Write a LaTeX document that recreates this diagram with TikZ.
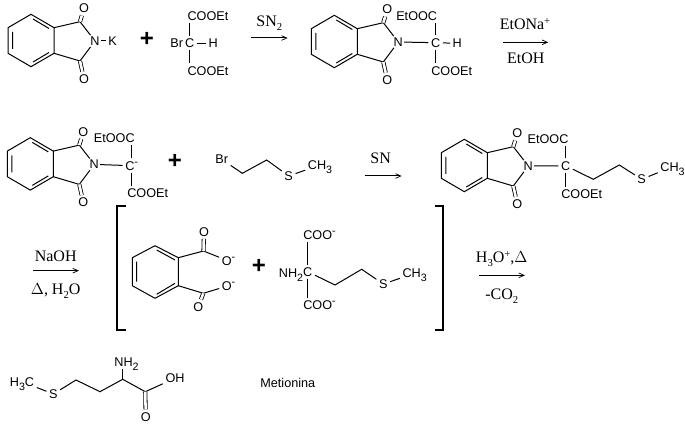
\documentclass[tikz,border=0pt]{standalone}
\usepackage{fontspec}
\setmainfont{Liberation Sans}
\newfontfamily\serifnum{Liberation Serif}
\usetikzlibrary{arrows.meta}
\newcommand\lowidx[1]{\raisebox{-3pt}{\fontsize{8}{8}\selectfont #1}}
\newcommand\highidx[1]{\raisebox{3.5pt}{\fontsize{8}{8}\selectfont #1}}
\tikzset{
  atom/.style={font=\fontsize{9.5}{10}\selectfont,inner sep=0pt,outer sep=2pt,text height=6.8pt,text depth=0pt},
  cond/.style={font=\serifnum\fontsize{12}{13}\selectfont,inner sep=0pt,outer sep=0pt,text height=8pt,text depth=0pt},
  plussign/.style={font=\bfseries\fontsize{18}{18}\selectfont,inner sep=0pt,text height=9pt,text depth=0pt},
  bond/.style={line width=0.75pt,line cap=butt},
  dbl/.style={line width=0.6pt,double,double distance=1.9pt},
  rxn/.style={line width=0.75pt,-{Straight Barb[length=4pt,width=3.5pt,line width=0.55pt]}},
  brk/.style={line width=1.5pt,line cap=butt}
}
\newcommand\phth[3]{%
\begin{scope}[shift={(#2,#3)},name prefix=#1-]
  \coordinate (r1) at (31,14.3);
  \coordinate (r2) at (54,27.7);
  \coordinate (r3) at (54,53.3);
  \coordinate (r4) at (31,66.7);
  \coordinate (r5) at (8,53.3);
  \coordinate (r6) at (8,27.7);
  \coordinate (i1) at (33,19);
  \coordinate (i2) at (49,28.5);
  \coordinate (i3) at (49,52.5);
  \coordinate (i4) at (33,62);
  \coordinate (i5) at (12.5,49);
  \coordinate (i6) at (12.5,32);
  \coordinate (c1) at (80,21.7);
  \coordinate (c2) at (80,61);
  \node[atom] (O1) at (84,8.3) {O};
  \node[atom] (O2) at (84,79) {O};
  \node[atom,outer sep=1pt] (N) at (95,41) {N};
  \draw[bond] (r1)--(r2)--(r3)--(r4)--(r5)--(r6)--cycle;
  \draw[bond] (i1)--(i2) (i3)--(i4) (i5)--(i6);
  \draw[bond] (r2)--(c1) (r3)--(c2) (c1)--(N) (c2)--(N);
  \draw[dbl] (c1)--(O1);
  \draw[dbl] (c2)--(O2);
\end{scope}}
\begin{document}
\begin{tikzpicture}[x=0.75pt,y=-0.75pt]
\path[use as bounding box,fill=white] (0,0) rectangle (685,424);
%% Row 1
\phth{a}{0}{0}
\node[atom] (aK) at (112.7,41) {K};
\draw[bond] (a-N)--(aK);
\node[plussign] (p1) at (147,40.7) {+};
\node[atom] (bC) at (189.8,43.3) {C};
\node[atom] (bBr) at (176.7,42.5) {Br};
\node[atom] (bH) at (213.3,43.3) {H};
\node[atom] (bT) at (208,15.5) {COOEt};
\node[atom] (bB) at (208,70.7) {COOEt};
\draw[bond] (bC)--(bH);
\draw[bond] (bC.north) -- (bC.north |- bT.south);
\draw[bond] (bC.south) -- (bC.south |- bB.north);
\coordinate (r1s) at (251,38); \coordinate (r1e) at (287.7,38);
\draw[rxn] (r1s)--(r1e);
\node[cond] (r1t) at (269.3,21.5) {SN\lowidx{2}};
\phth{c}{303.3}{1}
\node[atom] (cC) at (435.7,42.7) {C};
\node[atom] (cH) at (457.3,43.3) {H};
\node[atom] (cT) at (416.7,15.7) {EtOOC};
\node[atom] (cB) at (451.7,70.7) {COOEt};
\draw[bond] (c-N)--(cC);
\draw[bond] (cC)--(cH);
\draw[bond] (cC.north) -- (cC.north |- cT.south);
\draw[bond] (cC.south) -- (cC.south |- cB.north);
\coordinate (r2s) at (503.3,42.3); \coordinate (r2e) at (548.3,42.3);
\draw[rxn] (r2s)--(r2e);
\node[cond] (r2t) at (525,24) {EtONa\highidx{+}};
\node[cond] (r2b) at (525.7,58.3) {EtOH};
%% Row 2
\phth{d}{-0.7}{123.4}
\node[atom] (dC) at (131.7,165.7) {C\highidx{-}};
\node[atom] (dT) at (114.3,138.3) {EtOOC};
\node[atom] (dB) at (147.7,193.3) {COOEt};
\draw[bond] (d-N)--(dC);
\draw[bond] (dC.north) -- (dC.north |- dT.south);
\draw[bond] (dC.south) -- (dC.south |- dB.north);
\node[plussign] (p2) at (175,162.3) {+};
\node[atom] (eBr) at (221.7,159.3) {Br};
\coordinate (e1) at (242.3,173.3);
\coordinate (e2) at (266.7,160);
\node[atom] (eS) at (288.7,176) {S};
\node[atom] (eM) at (320,165) {CH\lowidx{3}};
\draw[bond] (eBr)--(e1)--(e2)--(eS)--(eM);
\coordinate (r3s) at (365,176); \coordinate (r3e) at (401.7,176);
\draw[rxn] (r3s)--(r3e);
\node[cond] (r3t) at (380.7,157.7) {SN};
\phth{f}{433.3}{125}
\node[atom] (fC) at (565.7,165.7) {C};
\node[atom] (fT) at (548,139) {EtOOC};
\node[atom] (fB) at (581.7,194) {COOEt};
\coordinate (f1) at (593.3,179.3);
\coordinate (f2) at (619.3,165);
\node[atom] (fS) at (641.7,179.3) {S};
\node[atom] (fM) at (672.5,166.7) {CH\lowidx{3}};
\draw[bond] (f-N)--(fC);
\draw[bond] (fC.north) -- (fC.north |- fT.south);
\draw[bond] (fC.south) -- (fC.south |- fB.north);
\draw[bond] (fC)--(f1)--(f2)--(fS)--(fM);
%% Row 3
\coordinate (r4s) at (33.3,270.7); \coordinate (r4e) at (79,270.7);
\draw[rxn] (r4s)--(r4e);
\node[cond] (r4t) at (55.7,255.7) {NaOH};
\node[cond] (r4b) at (55.7,289.3) {$\Delta$, H\lowidx{2}O};
\coordinate (bl1) at (126,205.7); \coordinate (bl2) at (116.7,205.7);
\coordinate (bl3) at (116.7,330); \coordinate (bl4) at (126,330);
\draw[brk] (bl1)--(bl2)--(bl3)--(bl4);
\coordinate (br1) at (434.5,205.7); \coordinate (br2) at (443,205.7);
\coordinate (br3) at (443,330); \coordinate (br4) at (434.5,330);
\draw[brk] (br1)--(br2)--(br3)--(br4);
\coordinate (g1) at (155,245.7);
\coordinate (g2) at (178.3,257.7);
\coordinate (g3) at (178.3,285.7);
\coordinate (g4) at (155,298.3);
\coordinate (g5) at (132.3,285.7);
\coordinate (g6) at (132.3,257.7);
\coordinate (gi1) at (156.7,250); \coordinate (gi2) at (175,260);
\coordinate (gi3) at (175,283.3); \coordinate (gi4) at (156.7,294.3);
\coordinate (gi5) at (136.7,281.7); \coordinate (gi6) at (136.7,261.7);
\draw[bond] (g1)--(g2)--(g3)--(g4)--(g5)--(g6)--cycle;
\draw[bond] (gi1)--(gi2) (gi3)--(gi4) (gi5)--(gi6);
\coordinate (gc1) at (203.5,251);
\coordinate (gc2) at (203.3,293.3);
\node[atom] (gO1) at (204,231.7) {O};
\node[atom] (gO2) at (198.3,306.7) {O};
\node[atom] (gm1) at (228.5,261) {O\highidx{-}};
\node[atom] (gm2) at (228.5,285.7) {O\highidx{-}};
\draw[bond] (g2)--(gc1)--(gm1);
\draw[bond] (g3)--(gc2)--(gm2);
\draw[dbl] (gc1)--(gO1);
\draw[dbl] (gc2)--(gO2);
\node[plussign] (p3) at (259,267.7) {+};
\node[atom] (hC) at (307.7,271.7) {C};
\node[atom] (hN) at (291,273.3) {NH\lowidx{2}};
\node[atom] (hT) at (319.5,235) {COO\highidx{-}};
\node[atom] (hB) at (319.5,305) {COO\highidx{-}};
\coordinate (h1) at (335,285);
\coordinate (h2) at (361.7,269.3);
\node[atom] (hS) at (383.3,284) {S};
\node[atom] (hM) at (414.7,273.3) {CH\lowidx{3}};
\draw[bond] (hC.north) -- (hC.north |- hT.south);
\draw[bond] (hC.south) -- (hC.south |- hB.north);
\draw[bond] (hC)--(h1)--(h2)--(hS)--(hM);
\coordinate (r5s) at (479,275.3); \coordinate (r5e) at (525,275.3);
\draw[rxn] (r5s)--(r5e);
\node[cond] (r5t) at (501.7,256.7) {H\lowidx{3}O\highidx{+},$\Delta$};
\node[cond] (r5b) at (501.7,294.3) {-CO\lowidx{2}};
%% Row 4
\node[atom] (kM) at (22,381.7) {H\lowidx{3}C};
\node[atom] (kS) at (53.3,394) {S};
\coordinate (k1) at (76,380);
\coordinate (k2) at (100,391.7);
\coordinate (k3) at (122.7,379.3);
\coordinate (k4) at (145.3,391.7);
\node[atom] (kN) at (126.5,361.7) {NH\lowidx{2}};
\node[atom] (kOH) at (175,378.3) {OH};
\node[atom] (kO) at (145.7,416.7) {O};
\draw[bond] (kM)--(kS)--(k1)--(k2)--(k3)--(k4)--(kOH);
\draw[bond] (k3)--(k3 |- kN.south);
\draw[dbl] (k4)--(kO);
\node[atom] (name) at (287.8,383.3) {Metionina};
\end{tikzpicture}
\end{document}
